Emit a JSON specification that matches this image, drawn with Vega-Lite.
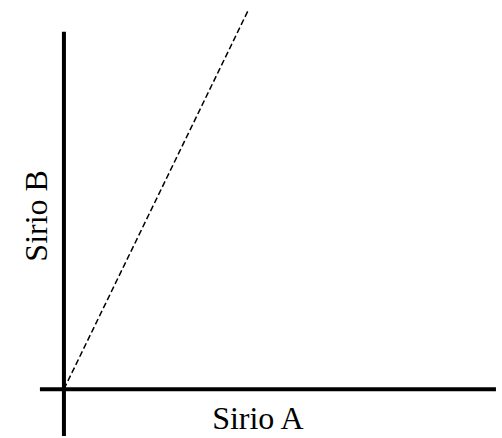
{
  "$schema": "https://vega.github.io/schema/vega-lite/v6.json",
  "width": 502,
  "height": 438,
  "padding": 0,
  "autosize": {"type": "fit", "contains": "padding"},
  "config": {"view": {"stroke": null}},
  "layer": [
    {
      "data": {"values": [
        {"x": -0.556, "x2": 10.0, "y": 0, "y2": 0},
        {"x": 0, "x2": 0, "y": -1.09, "y2": 8.31}
      ]},
      "mark": {"type": "rule", "color": "black", "strokeWidth": 4, "strokeCap": "butt"},
      "encoding": {
        "x": {"field": "x", "type": "quantitative", "scale": {"domain": [-1.48, 10.14], "nice": false, "zero": false}, "axis": null},
        "x2": {"field": "x2"},
        "y": {"field": "y", "type": "quantitative", "scale": {"domain": [-1.09, 9.05], "nice": false, "zero": false}, "axis": null},
        "y2": {"field": "y2"}
      }
    },
    {
      "data": {"values": [
        {"x": 0, "x2": 4.28, "y": 0, "y2": 8.84}
      ]},
      "mark": {"type": "rule", "color": "black", "strokeWidth": 1.5, "strokeDash": [6, 3], "strokeCap": "butt"},
      "encoding": {
        "x": {"field": "x", "type": "quantitative", "scale": {"domain": [-1.48, 10.14], "nice": false, "zero": false}, "axis": null},
        "x2": {"field": "x2"},
        "y": {"field": "y", "type": "quantitative", "scale": {"domain": [-1.09, 9.05], "nice": false, "zero": false}, "axis": null},
        "y2": {"field": "y2"}
      }
    },
    {
      "data": {"values": [
        {"label": "Sirio A", "x": 4.49, "y": -0.93, "angle": 0},
        {"label": "Sirio B", "x": -0.4, "y": 4.03, "angle": 270}
      ]},
      "mark": {"type": "text", "font": "'Liberation Serif', 'Times New Roman', serif", "fontSize": 32, "color": "black", "align": "center", "baseline": "alphabetic"},
      "encoding": {
        "x": {"field": "x", "type": "quantitative", "scale": {"domain": [-1.48, 10.14], "nice": false, "zero": false}, "axis": null},
        "y": {"field": "y", "type": "quantitative", "scale": {"domain": [-1.09, 9.05], "nice": false, "zero": false}, "axis": null},
        "text": {"field": "label"},
        "angle": {"field": "angle", "type": "quantitative", "scale": null}
      }
    }
  ]
}
